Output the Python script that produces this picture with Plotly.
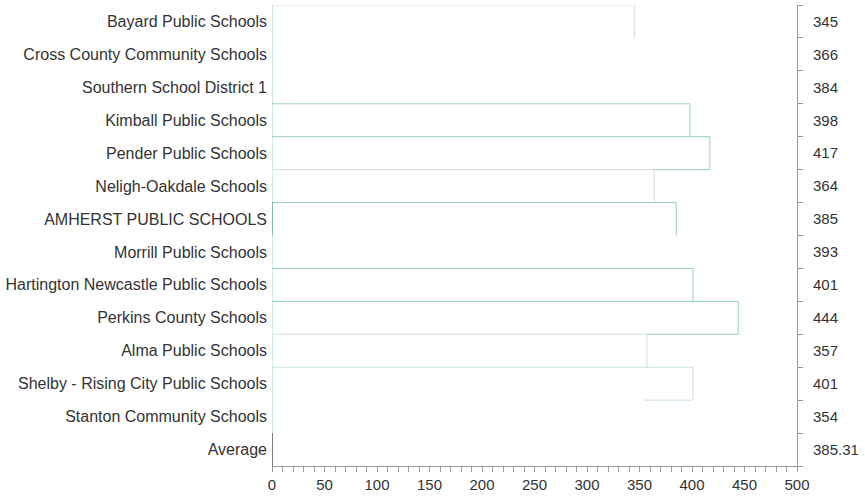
import plotly.graph_objects as go

schools = [
    "Bayard Public Schools",
    "Cross County Community Schools",
    "Southern School District 1",
    "Kimball Public Schools",
    "Pender Public Schools",
    "Neligh-Oakdale Schools",
    "AMHERST PUBLIC SCHOOLS",
    "Morrill Public Schools",
    "Hartington Newcastle Public Schools",
    "Perkins County Schools",
    "Alma Public Schools",
    "Shelby - Rising City Public Schools",
    "Stanton Community Schools",
    "Average",
]
scores = [345, 366, 384, 398, 417, 364, 385, 393, 401, 444, 357, 401, 354, 385.31]
score_labels = ["345", "366", "384", "398", "417", "364", "385", "393", "401",
                "444", "357", "401", "354", "385.31"]
x_ticks = [0, 50, 100, 150, 200, 250, 300, 350, 400, 450, 500]

TEAL = "#97cfc0"
GREY = "#d3dedb"
LTEAL = "#c6e3dc"
edge_colors = [GREY, None, None, TEAL, TEAL, GREY, TEAL, None, TEAL, TEAL, GREY, LTEAL, None, None]

fig = go.Figure()

n = len(schools)
rows = list(range(n))

# left edge line of bars
fig.add_trace(go.Scatter(x=[0, 0], y=[-0.5, n - 0.5], mode="lines",
                         line=dict(color="#a9d6ca", width=1), cliponaxis=False,
                         hoverinfo="skip", showlegend=False))

for i, (v, c) in enumerate(zip(scores, edge_colors)):
    if c is None:
        continue
    xs = [0, v, v]
    ys = [i - 0.5, i - 0.5, i + 0.5]
    fig.add_trace(go.Scatter(x=xs, y=ys, mode="lines", line=dict(color=c, width=1),
                             cliponaxis=False, hoverinfo="skip", showlegend=False))
    if i + 1 < n and scores[i + 1] < v:
        fig.add_trace(go.Scatter(x=[scores[i + 1], v], y=[i + 0.5, i + 0.5], mode="lines",
                                 line=dict(color=c, width=1), cliponaxis=False,
                                 hoverinfo="skip", showlegend=False))

# highlighted left-edge segments
hl = {6: "#3f9e88", 13: "#333333"}
for i, col in hl.items():
    fig.add_trace(go.Scatter(x=[0, 0], y=[i - 0.5, i + 0.5], mode="lines",
                             line=dict(color=col, width=1.2), cliponaxis=False,
                             hoverinfo="skip", showlegend=False))

# invisible trace for right axis
fig.add_trace(go.Scatter(x=[0], y=[0], yaxis="y2", mode="markers",
                         marker=dict(opacity=0), hoverinfo="skip", showlegend=False))

font = dict(family="Liberation Sans, Arial, sans-serif", size=15, color="#333333")
name_font = dict(family="Liberation Sans, Arial, sans-serif", size=16, color="#333333")

fig.update_layout(
    width=865, height=497,
    margin=dict(l=272, r=68, t=5, b=31, autoexpand=False),
    paper_bgcolor="white", plot_bgcolor="white",
    font=font,
    xaxis=dict(range=[0, 500], tickvals=x_ticks, ticktext=[str(t) for t in x_ticks],
               showgrid=False, zeroline=False, showline=True, linecolor="#999999",
               linewidth=1, ticks="outside", ticklen=5, tickcolor="#999999",
               minor=dict(dtick=10, ticks="outside", ticklen=5, tickcolor="#999999"),
               tickfont=font, automargin=False, fixedrange=True),
    yaxis=dict(range=[n - 0.5, -0.5], tickvals=rows, ticktext=schools,
               showgrid=False, zeroline=False, showline=False, ticks="",
               ticklabelstandoff=4, tickfont=name_font, automargin=False),
    yaxis2=dict(range=[n - 0.5, -0.5], overlaying="y", side="right", anchor="x",
                tickvals=rows, ticktext=score_labels, showgrid=False, zeroline=False,
                showline=True, linecolor="#999999", linewidth=1, ticks="",
                ticklabelstandoff=12,
                minor=dict(tickvals=[r - 0.5 for r in rows] + [n - 0.5], ticks="outside",
                           ticklen=5, tickcolor="#999999", showgrid=False),
                tickfont=font, automargin=False),
)

fig.write_html("out.html", config={"displayModeBar": False})

with open("out.html", "r", encoding="utf-8") as f:
    html = f.read()
html = html.replace("<head>", "<head><style>html,body{margin:0;padding:0;}</style>", 1)
with open("out.html", "w", encoding="utf-8") as f:
    f.write(html)
